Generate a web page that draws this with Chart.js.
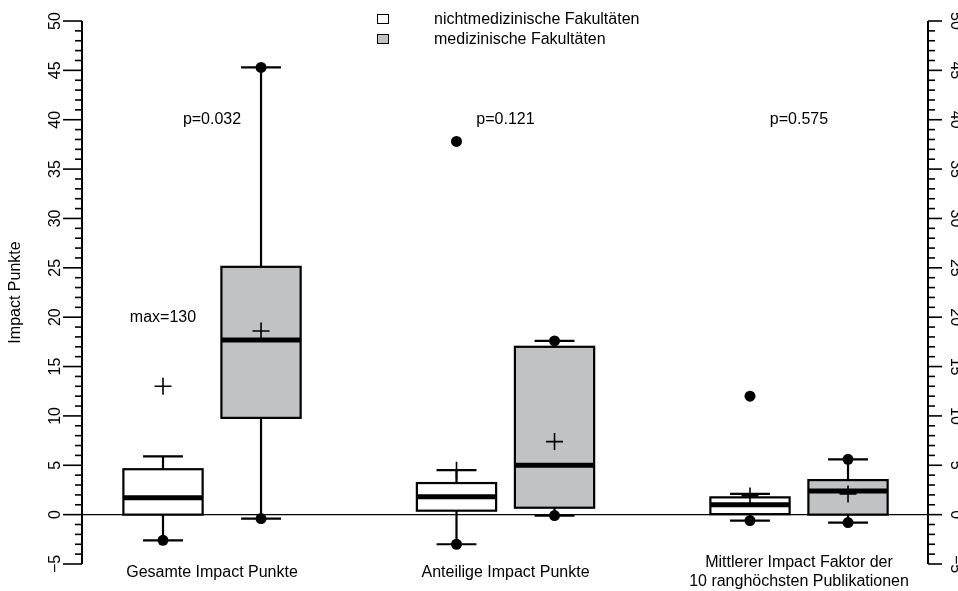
<!DOCTYPE html>
<html>
<head>
<meta charset="utf-8">
<script src="https://cdn.jsdelivr.net/npm/chart.js@4/dist/chart.umd.min.js"></script>
<style>
  html, body { margin: 0; padding: 0; background: #fff; }
  #wrap { width: 958px; height: 591px; }
</style>
</head>
<body>
<div id="wrap"><canvas id="boxChart" width="958" height="591"></canvas></div>
<script>
// categories and series
const categories = ['Gesamte Impact Punkte', 'Anteilige Impact Punkte', ['Mittlerer Impact Faktor der', '10 ranghöchsten Publikationen']];
const seriesNames = ['nichtmedizinische Fakultäten', 'medizinische Fakultäten'];

// nichtmedizinische Fakultäten
const nonMedQ1 = [0.0, 0.4, 0.05];
const nonMedMedian = [1.7, 1.8, 1.0];
const nonMedQ3 = [4.6, 3.2, 1.75];
const nonMedLow = [-2.6, -3.0, -0.6];
const nonMedHigh = [5.9, 4.5, 2.1];
const nonMedMean = [13.0, 4.5, 1.9];
const nonMedDots = [[-2.6], [-3.0, 37.8], [-0.6, 12.0]];

// medizinische Fakultäten
const medQ1 = [9.8, 0.7, 0.0];
const medMedian = [17.7, 5.0, 2.4];
const medQ3 = [25.1, 17.0, 3.5];
const medLow = [-0.4, -0.1, -0.8];
const medHigh = [45.3, 17.6, 5.6];
const medMean = [18.6, 7.4, 2.1];
const medDots = [[45.3, -0.4], [17.6, -0.1], [5.6, -0.8]];

// text annotations
const pLabels = ['p=0.032', 'p=0.121', 'p=0.575'];
const pLabelY = 40;
const maxNote = { text: 'max=130', group: 0, y: 20 };

const yMin = -5, yMax = 50;
const FONT = '16px "Liberation Sans", Arial, sans-serif';
const GRAY = '#c1c2c4';
const OFF = 0.167;     // half distance between the two boxes of a group
const HALF = 0.135;    // half box width
const CAP = 0.068;     // half whisker cap width

const series = [
  { q1: nonMedQ1, med: nonMedMedian, q3: nonMedQ3, lo: nonMedLow, hi: nonMedHigh, fill: '#ffffff', dx: -OFF },
  { q1: medQ1, med: medMedian, q3: medQ3, lo: medLow, hi: medHigh, fill: GRAY, dx: OFF }
];

function pts(arr, dx) {
  const out = [];
  arr.forEach((v, i) => {
    (Array.isArray(v) ? v : [v]).forEach(y => out.push({ x: i + 1 + dx, y: y }));
  });
  return out;
}

const boxPlugin = {
  id: 'boxes',
  beforeDatasetsDraw(chart) {
    const ctx = chart.ctx, xs = chart.scales.x, ys = chart.scales.y, a = chart.chartArea;
    ctx.save();
    // zero line
    ctx.strokeStyle = '#000';
    ctx.lineWidth = 1.2;
    ctx.beginPath();
    ctx.moveTo(a.left, ys.getPixelForValue(0));
    ctx.lineTo(a.right, ys.getPixelForValue(0));
    ctx.stroke();

    series.forEach(s => {
      categories.forEach((c, i) => {
        const cx = i + 1 + s.dx;
        const x0 = xs.getPixelForValue(cx - HALF), x1 = xs.getPixelForValue(cx + HALF);
        const xc = xs.getPixelForValue(cx);
        const c0 = xs.getPixelForValue(cx - CAP), c1 = xs.getPixelForValue(cx + CAP);
        const yq1 = ys.getPixelForValue(s.q1[i]), yq3 = ys.getPixelForValue(s.q3[i]);
        const ylo = ys.getPixelForValue(s.lo[i]), yhi = ys.getPixelForValue(s.hi[i]);
        const ymd = ys.getPixelForValue(s.med[i]);
        ctx.lineWidth = 2.2;
        ctx.strokeStyle = '#000';
        // whiskers
        ctx.beginPath();
        ctx.moveTo(xc, yq3); ctx.lineTo(xc, yhi);
        ctx.moveTo(c0, yhi); ctx.lineTo(c1, yhi);
        ctx.moveTo(xc, yq1); ctx.lineTo(xc, ylo);
        ctx.moveTo(c0, ylo); ctx.lineTo(c1, ylo);
        ctx.stroke();
        // box
        ctx.fillStyle = s.fill;
        ctx.fillRect(x0, yq3, x1 - x0, yq1 - yq3);
        ctx.strokeRect(x0, yq3, x1 - x0, yq1 - yq3);
        // median
        ctx.lineWidth = 5;
        ctx.beginPath();
        ctx.moveTo(x0, ymd); ctx.lineTo(x1, ymd);
        ctx.stroke();
      });
    });
    ctx.restore();
  },
  afterDraw(chart) {
    const ctx = chart.ctx, xs = chart.scales.x, ys = chart.scales.y, a = chart.chartArea;
    ctx.save();
    ctx.strokeStyle = '#000';
    ctx.fillStyle = '#000';
    // axes with ticks on both sides
    const axes = [
      { x: a.left, dir: -1, major: 19, minor: 7, labelGap: 26 },
      { x: a.right, dir: 1, major: 14, minor: 7, labelGap: 27.5 }
    ];
    axes.forEach(ax => {
      ctx.lineWidth = 2;
      ctx.beginPath();
      ctx.moveTo(ax.x, ys.getPixelForValue(yMin));
      ctx.lineTo(ax.x, ys.getPixelForValue(yMax));
      ctx.stroke();
      ctx.lineWidth = 1.6;
      for (let v = yMin; v <= yMax; v++) {
        const y = ys.getPixelForValue(v);
        const len = v % 5 === 0 ? ax.major : ax.minor;
        ctx.beginPath();
        ctx.moveTo(ax.x, y);
        ctx.lineTo(ax.x + ax.dir * len, y);
        ctx.stroke();
      }
      ctx.font = FONT;
      ctx.textAlign = 'center';
      ctx.textBaseline = 'middle';
      for (let v = yMin; v <= yMax; v += 5) {
        const y = ys.getPixelForValue(v);
        ctx.save();
        ctx.translate(ax.x + ax.dir * ax.labelGap, y);
        ctx.rotate(ax.dir * Math.PI / 2);
        ctx.fillText(v < 0 ? '\u2212' + Math.abs(v) : String(v), 0, 0);
        ctx.restore();
      }
    });
    // y title
    ctx.save();
    ctx.translate(16, (a.top + a.bottom) / 2);
    ctx.rotate(-Math.PI / 2);
    ctx.fillText('Impact Punkte', 0, 0);
    ctx.restore();
    // category labels
    categories.forEach((c, i) => {
      const x = xs.getPixelForValue(i + 1);
      const lines = Array.isArray(c) ? c : [c];
      const y0 = lines.length > 1 ? 563 : 573;
      lines.forEach((t, k) => ctx.fillText(t, x, y0 + k * 18.5));
    });
    // p values
    pLabels.forEach((t, i) => ctx.fillText(t, xs.getPixelForValue(i + 1), ys.getPixelForValue(pLabelY)));
    ctx.fillText(maxNote.text, xs.getPixelForValue(maxNote.group + 1 - OFF), ys.getPixelForValue(maxNote.y));
    // legend
    ctx.textAlign = 'left';
    seriesNames.forEach((t, k) => {
      const y = 19 + k * 20;
      ctx.lineWidth = 1;
      ctx.fillStyle = series[k].fill;
      ctx.fillRect(377.5, y - 4.5, 11, 9);
      ctx.strokeRect(377.5, y - 4.5, 11, 9);
      ctx.fillStyle = '#000';
      ctx.fillText(t, 434, y + 1);
    });
    ctx.restore();
  }
};

new Chart(document.getElementById('boxChart'), {
  type: 'scatter',
  data: {
    datasets: [
      { label: 'nonMedDots', data: pts(nonMedDots, -OFF), pointStyle: 'circle', pointRadius: 5.5, backgroundColor: '#000', borderColor: '#000', borderWidth: 0 },
      { label: 'medDots', data: pts(medDots, OFF), pointStyle: 'circle', pointRadius: 5.5, backgroundColor: '#000', borderColor: '#000', borderWidth: 0 },
      { label: 'nonMedMean', data: pts(nonMedMean, -OFF), pointStyle: 'cross', pointRadius: 8.5, borderColor: '#000', borderWidth: 1.6 },
      { label: 'medMean', data: pts(medMean, OFF), pointStyle: 'cross', pointRadius: 8.5, borderColor: '#000', borderWidth: 1.6 }
    ]
  },
  options: {
    responsive: false,
    animation: false,
    layout: { padding: { left: 82, right: 30, top: 21, bottom: 27 } },
    plugins: { legend: { display: false }, tooltip: { enabled: false } },
    scales: {
      x: { type: 'linear', display: false, min: 0.557, max: 3.4395 },
      y: { display: false, min: yMin, max: yMax }
    }
  },
  plugins: [boxPlugin]
});
</script>
</body>
</html>
